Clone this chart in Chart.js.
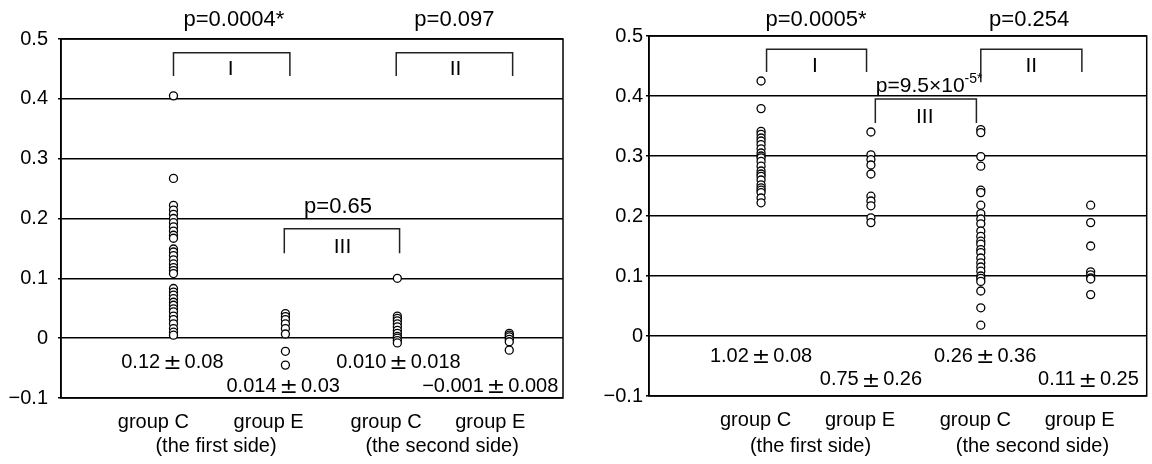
<!DOCTYPE html>
<html>
<head>
<meta charset="utf-8">
<script src="https://cdn.jsdelivr.net/npm/chart.js@4.4.1/dist/chart.umd.min.js"></script>
<style>
  html, body { margin: 0; padding: 0; background: #fff; }
  #wrap { position: relative; width: 1152px; height: 464px; overflow: hidden; }
  .panel { position: absolute; top: 0; width: 576px; height: 464px; }
</style>
</head>
<body>
<div id="wrap">
  <div class="panel" style="left:0"><canvas id="leftChart" width="576" height="464"></canvas></div>
  <div class="panel" style="left:576px"><canvas id="rightChart" width="576" height="464"></canvas></div>
</div>
<script>
// categories and tick labels
const categories = ["group C", "group E", "group C", "group E"];
const sides = ["(the first side)", "(the second side)"];
const yTickValues = [-0.1, 0, 0.1, 0.2, 0.3, 0.4, 0.5];
const yTickLabels = ["\u22120.1", "0", "0.1", "0.2", "0.3", "0.4", "0.5"];
const bracketNames = ["I", "II", "III"];

// left panel values
const leftC1 = [0.405, 0.267, 0.222, 0.214, 0.207, 0.200, 0.193, 0.186, 0.179, 0.172, 0.167,
  0.149, 0.144, 0.138, 0.131, 0.124, 0.118, 0.113, 0.108,
  0.083, 0.077, 0.072, 0.066, 0.060, 0.055, 0.049, 0.044, 0.037, 0.031, 0.024, 0.016, 0.010, 0.005];
const leftE1 = [0.041, 0.036, 0.031, 0.024, 0.016, 0.007, -0.022, -0.045];
const leftC2 = [0.100, 0.037, 0.033, 0.029, 0.024, 0.019, 0.013, 0.008, 0.003, 0.000, -0.004, -0.008];
const leftE2 = [0.008, 0.005, 0.002, -0.002, -0.006, -0.020];
// mean and sd, written as [mean, sd]
const leftStats = [["0.12", "0.08"], ["0.014", "0.03"], ["0.010", "0.018"], ["\u22120.001", "0.008"]];
const leftPValues = ["p=0.0004*", "p=0.097", "p=0.65"];

// right panel values
const rightC1 = [0.425, 0.379, 0.341, 0.336, 0.330, 0.325, 0.319, 0.312, 0.305, 0.300, 0.297, 0.291,
  0.283, 0.275, 0.270, 0.266, 0.260, 0.252, 0.247, 0.243, 0.239, 0.230, 0.222];
const rightE1 = [0.340, 0.302, 0.294, 0.285, 0.270, 0.233, 0.225, 0.217, 0.197, 0.189];
const rightC2 = [0.344, 0.339, 0.299, 0.283, 0.243, 0.239, 0.218, 0.204, 0.195, 0.187, 0.175, 0.166,
  0.158, 0.153, 0.144, 0.139, 0.130, 0.122, 0.115, 0.108, 0.100, 0.096, 0.091, 0.075, 0.047, 0.018];
const rightE2 = [0.218, 0.189, 0.150, 0.107, 0.102, 0.097, 0.095, 0.069];
const rightStats = [["1.02", "0.08"], ["0.75", "0.26"], ["0.26", "0.36"], ["0.11", "0.25"]];
const rightPValues = ["p=0.0005*", "p=0.254", "p=9.5\u00d710", "-5*"];

const FONT = "Liberation Sans, Arial, sans-serif";
const PM_FONT = "DejaVu Sans, sans-serif";

// layout of each panel (pixels and data-unit anchors for the annotations)
const leftLayout = {
  xMin: -1.005, xMax: 3.48, yWidth: 61, xHeight: 66, top: 39, right: 13, tickPad: 10,
  labelPos: [-0.18, 0.85, 1.9, 2.83], sidePos: [0.38, 2.4], sideDy: 48,
  statPos: [[-0.01, -0.041], [0.98, -0.08], [2.01, -0.041], [2.83, -0.08]],
  pPos: [[0.54, 0.532], [2.51, 0.532], [1.47, 0.219]],
  brackets: [
    { x1: 0.0, x2: 1.04, top: 0.477, b1: 0.438, b2: 0.438, lx: 0.51, ly: 0.45 },
    { x1: 1.99, x2: 3.03, top: 0.477, b1: 0.438, b2: 0.438, lx: 2.52, ly: 0.45 },
    { x1: 0.99, x2: 2.02, top: 0.183, b1: 0.142, b2: 0.142, lx: 1.51, ly: 0.152 }
  ]
};
const rightLayout = {
  xMin: -1.02, xMax: 3.51, yWidth: 73, xHeight: 68, top: 36, right: 1, tickPad: 3,
  labelPos: [-0.05, 0.9, 1.95, 2.9], sidePos: [0.45, 2.47], sideDy: 50,
  statPos: [[0.0, -0.034], [1.0, -0.073], [2.04, -0.034], [2.98, -0.073]],
  pPos: [[0.5, 0.527], [2.44, 0.527], [1.53, 0.417]],
  brackets: [
    { x1: 0.05, x2: 0.96, top: 0.478, b1: 0.44, b2: 0.44, lx: 0.49, ly: 0.449 },
    { x1: 2.0, x2: 2.92, top: 0.478, b1: 0.423, b2: 0.44, lx: 2.46, ly: 0.449 },
    { x1: 1.04, x2: 1.96, top: 0.395, b1: 0.355, b2: 0.355, lx: 1.49, ly: 0.365 }
  ]
};

function pts(values, i) {
  return values.map((v) => ({ x: i, y: v }));
}

// "mean ± sd" centred on cx, the ± in a wider glyph
function drawStat(ctx, s, cx, cy) {
  ctx.font = "20px " + FONT;
  const wa = ctx.measureText(s[0]).width, wb = ctx.measureText(s[1]).width;
  ctx.font = "22px " + PM_FONT;
  const wp = ctx.measureText("\u00b1").width + 6;
  let x0 = cx - (wa + wp + wb) / 2;
  ctx.textAlign = "left";
  ctx.font = "20px " + FONT;
  ctx.fillText(s[0], x0, cy);
  ctx.font = "22px " + PM_FONT;
  ctx.fillText("\u00b1", x0 + wa + 3, cy + 1);
  ctx.font = "20px " + FONT;
  ctx.fillText(s[1], x0 + wa + wp, cy);
  ctx.textAlign = "center";
}

const annotate = {
  id: "annotate",
  afterDraw(chart, args, opts) {
    const { ctx, chartArea: a, scales: { x, y } } = chart;
    const L = opts.layout;
    ctx.save();
    // frame
    ctx.strokeStyle = "#000";
    ctx.lineWidth = 1.5;
    ctx.strokeRect(a.left, a.top, a.right - a.left, a.bottom - a.top);

    ctx.fillStyle = "#000";
    ctx.font = "20px " + FONT;
    ctx.textAlign = "center";
    ctx.textBaseline = "middle";

    // side captions under the group labels
    sides.forEach((s, i) => ctx.fillText(s, x.getPixelForValue(L.sidePos[i]), a.bottom + L.sideDy));

    // mean +- sd
    opts.stats.forEach((s, i) => {
      drawStat(ctx, s, x.getPixelForValue(L.statPos[i][0]), y.getPixelForValue(L.statPos[i][1]));
    });

    // brackets
    ctx.strokeStyle = "#222";
    ctx.lineWidth = 1.5;
    ctx.font = "21px " + FONT;
    L.brackets.forEach((b, i) => {
      const x1 = x.getPixelForValue(b.x1), x2 = x.getPixelForValue(b.x2);
      ctx.beginPath();
      ctx.moveTo(x1, y.getPixelForValue(b.b1));
      ctx.lineTo(x1, y.getPixelForValue(b.top));
      ctx.lineTo(x2, y.getPixelForValue(b.top));
      ctx.lineTo(x2, y.getPixelForValue(b.b2));
      ctx.stroke();
      ctx.fillText(bracketNames[i], x.getPixelForValue(b.lx), y.getPixelForValue(b.ly));
    });

    // p values
    const p = opts.pvalues;
    ctx.font = "22px " + FONT;
    for (let i = 0; i < 3; i++) {
      const px = x.getPixelForValue(L.pPos[i][0]), py = y.getPixelForValue(L.pPos[i][1]);
      if (i === 2 && p.length > 3) {
        // base text with superscript exponent
        ctx.font = "21px " + FONT;
        const w1 = ctx.measureText(p[2]).width;
        ctx.font = "14px " + FONT;
        const w2 = ctx.measureText(p[3]).width;
        const start = px - (w1 + w2) / 2;
        ctx.textAlign = "left";
        ctx.font = "21px " + FONT;
        ctx.fillText(p[2], start, py);
        ctx.font = "14px " + FONT;
        ctx.fillText(p[3], start + w1, py - 7);
        ctx.textAlign = "center";
        ctx.font = "22px " + FONT;
      } else {
        ctx.fillText(p[i], px, py);
      }
    }
    ctx.restore();
  }
};

function makeChart(id, groups, L, stats, pvalues) {
  return new Chart(document.getElementById(id), {
    type: "scatter",
    data: {
      datasets: groups.map((g, i) => ({
        label: categories[i],
        data: pts(g, i),
        pointStyle: "circle",
        pointRadius: 4,
        pointBorderWidth: 1.3,
        pointBorderColor: "#000",
        pointBackgroundColor: "#fff"
      }))
    },
    options: {
      responsive: false,
      animation: false,
      layout: { padding: { left: 0, top: L.top, right: L.right, bottom: 0 } },
      plugins: {
        legend: { display: false },
        tooltip: { enabled: false },
        annotate: { layout: L, stats, pvalues }
      },
      scales: {
        x: {
          type: "linear",
          min: L.xMin,
          max: L.xMax,
          grid: { display: false },
          border: { display: false },
          afterBuildTicks: (s) => { s.ticks = L.labelPos.map((v) => ({ value: v })); },
          afterFit: (s) => { s.height = L.xHeight; },
          ticks: {
            autoSkip: false,
            maxRotation: 0,
            padding: 4,
            color: "#000",
            font: { family: FONT, size: 20 },
            callback: (v, i) => categories[i]
          }
        },
        y: {
          min: -0.1,
          max: 0.5,
          afterBuildTicks: (s) => { s.ticks = yTickValues.map((v) => ({ value: v })); },
          afterFit: (s) => { s.width = L.yWidth; },
          grid: { color: "#000", lineWidth: 1.5, drawTicks: true, tickLength: 3 },
          border: { display: true, color: "#000", width: 1.5 },
          ticks: {
            padding: L.tickPad,
            color: "#000",
            font: { family: FONT, size: 20 },
            callback: (v, i) => yTickLabels[i]
          }
        }
      }
    },
    plugins: [annotate]
  });
}

makeChart("leftChart", [leftC1, leftE1, leftC2, leftE2], leftLayout, leftStats, leftPValues);
makeChart("rightChart", [rightC1, rightE1, rightC2, rightE2], rightLayout, rightStats, rightPValues);
</script>
</body>
</html>
